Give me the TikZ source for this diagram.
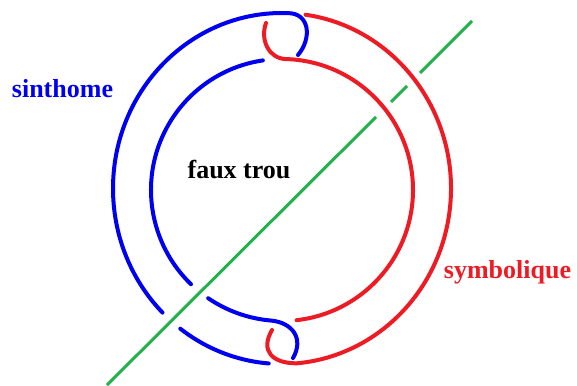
\documentclass[tikz,border=0pt]{standalone}
\usepackage{fontspec}
\setmainfont{Liberation Serif}
\usetikzlibrary{calc}
\definecolor{knotblue}{RGB}{0,0,240}
\definecolor{knotred}{RGB}{237,28,36}
\definecolor{knotgreen}{RGB}{34,177,76}

\begin{document}
\begin{tikzpicture}[x=1pt,y=1pt,
  blue line/.style={knotblue,line width=4pt,line cap=round},
  red line/.style={knotred,line width=4pt,line cap=round},
  green line/.style={knotgreen,line width=3pt},
  word/.style={font=\fontsize{26}{30}\selectfont\bfseries,anchor=base}]
\useasboundingbox (0,0) rectangle (577,-385);
\coordinate (O) at (282,-188.5);
\coordinate (I) at (282,-190);
\coordinate (BT) at (298,-55);
\coordinate (BB) at (293,-358);
\coordinate (RT) at (266,-23);
\coordinate (RB) at (272,-330);
\coordinate (G1) at (107,-385);
\coordinate (G2) at (376,-117);
\coordinate (G3) at (391,-102);
\coordinate (G4) at (407,-86);
\coordinate (G5) at (420,-73);
\coordinate (G6) at (472,-21);
\draw[blue line] (BT) to[out=50,in=0,looseness=1.3] ($(O)+(88:169 and 175.5)$) arc[start angle=88,end angle=225,x radius=169,y radius=175.5];
\draw[blue line] ($(O)+(233:169 and 175.5)$) arc[start angle=233,end angle=265.5,x radius=169,y radius=175.5];
\draw[blue line] ($(I)+(98.4:131)$) arc[start angle=98.4,end angle=226,radius=131];
\draw[blue line] ($(I)+(235.7:131)$) arc[start angle=235.7,end angle=265,radius=131] to[out=-5,in=60,looseness=1.3] (BB);
\draw[green line] (G1)--(G2) (G3)--(G4) (G5)--(G6);
\draw[red line] ($(O)+(82:169 and 175.5)$) arc[start angle=82,end angle=-85,x radius=169,y radius=175.5] to[out=180,in=240,looseness=1.5] (RB);
\draw[red line] (RT) to[out=250,in=180,looseness=1.1] ($(I)+(88:131)$) arc[start angle=88,end angle=-83.6,radius=131];
\node[word,knotblue] (sinthome) at (62.5,-97) {sinthome};
\node[word] (faux) at (239,-178) {faux trou};
\node[word,knotred] (symbolique) at (507.5,-278) {symbolique};
\end{tikzpicture}
\end{document}
